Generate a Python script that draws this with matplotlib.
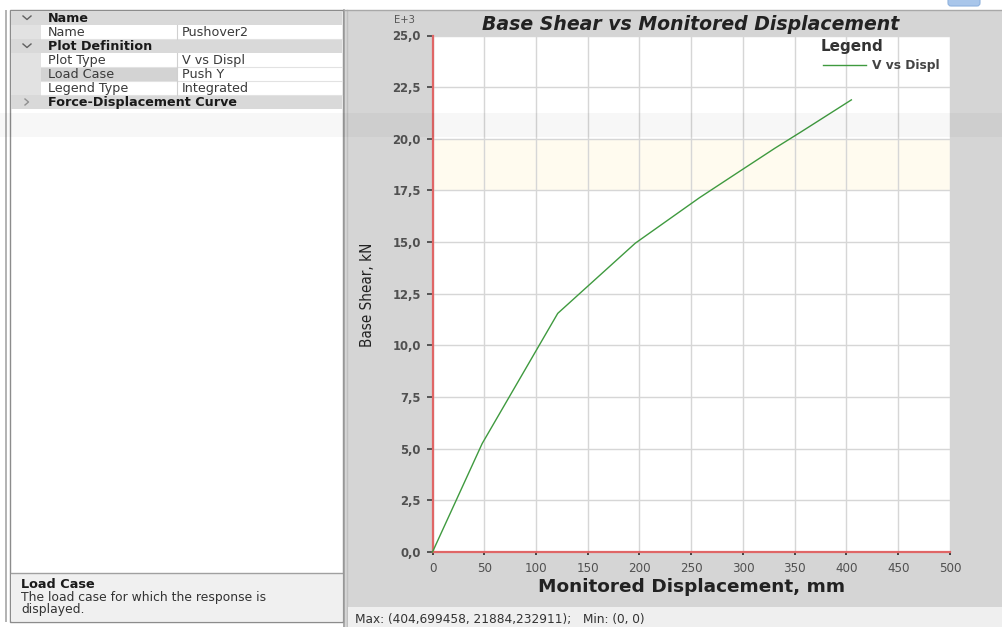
import matplotlib
matplotlib.use("Agg")
import matplotlib.pyplot as plt
from matplotlib.patches import Rectangle, FancyBboxPatch
from matplotlib.lines import Line2D
from matplotlib.ticker import FuncFormatter, FixedLocator
from matplotlib import font_manager as fm

# ---- pushover curve (Push Y), base shear in kN vs monitored displacement in mm ----
displacement_mm = [0, 48, 121, 196, 258, 299, 331, 355, 366, 404.699458]
base_shear_kN = [0, 5250, 11550, 14950, 17150, 18500, 19550, 20300, 20650, 21884.232911]

x_ticks = [0, 50, 100, 150, 200, 250, 300, 350, 400, 450, 500]
y_ticks_e3 = [0.0, 2.5, 5.0, 7.5, 10.0, 12.5, 15.0, 17.5, 20.0, 22.5, 25.0]

series_name = "V vs Displ"
chart_title = "Base Shear vs Monitored Displacement"
x_label = "Monitored Displacement, mm"
y_label = "Base Shear, kN"

# property grid rows: (kind, name, value)
grid_rows = [
    ("category", "Name", ""),
    ("item", "Name", "Pushover2"),
    ("category", "Plot Definition", ""),
    ("item", "Plot Type", "V vs Displ"),
    ("item", "Load Case", "Push Y"),
    ("item", "Legend Type", "Integrated"),
    ("collapsed", "Force-Displacement Curve", ""),
]
help_title = "Load Case"
help_lines = ["The load case for which the response is", "displayed."]

plt.rcParams["font.family"] = ["DejaVu Sans"]


def condensed_font():
    """Pick a narrow sans face for the rotated axis title, if one is installed."""
    found = []
    for f in fm.fontManager.ttflist:
        narrow = "Narrow" in f.name or "Condensed" in f.name
        if isinstance(f.stretch, str):
            narrow = narrow or f.stretch in ("condensed", "semi-condensed")
        if narrow and f.style == "normal" and f.weight in (400, "normal", "regular", "book"):
            found.append(f)
    prefs = ["Liberation Sans Narrow", "DejaVu Sans", "Roboto Condensed", "Open Sans Condensed"]
    for p in prefs:
        for f in found:
            if f.name == p and ("ondensed" in f.fname or "arrow" in f.fname):
                return fm.FontProperties(fname=f.fname)
    for f in found:
        if "ondensed" in f.fname or "arrow" in f.fname:
            return fm.FontProperties(fname=f.fname)
    return fm.FontProperties(family="Liberation Sans")


W, H = 1003, 627
fig = plt.figure(figsize=(W / 100, H / 100), dpi=100)
fig.patch.set_facecolor("white")

# full-figure canvas in pixel units for the window chrome
bg = fig.add_axes([0, 0, 1, 1])
bg.set_xlim(0, W)
bg.set_ylim(H, 0)
bg.axis("off")


def rect(x, y, w, h, fc, ec="none", lw=0, z=1, alpha=1.0):
    bg.add_patch(Rectangle((x, y), w, h, facecolor=fc, edgecolor=ec, linewidth=lw, zorder=z,
                           alpha=alpha))


# ---------- left property panel ----------
rect(10, 10, 333, 612, "white", "#8c8c8c", 1.0, 1)
rect(5, 10, 2, 612, "#b4b4b4", z=1)
row_h = 14
top = 11
split_x = 177
grid_fs = 9.2
for i, (kind, name, value) in enumerate(grid_rows):
    y0 = top + i * row_h
    yc = y0 + row_h / 2
    if kind in ("category", "collapsed"):
        rect(11, y0, 331, row_h, "#d9d9d9", z=2)
        bg.text(48, yc + 0.5, name, fontsize=grid_fs, fontweight="bold", color="#1a1a1a",
                va="center", ha="left", zorder=4)
        if kind == "category":
            bg.plot([23, 27, 31], [yc - 2, yc + 1.5, yc - 2], color="#606060", lw=1.0, zorder=4)
        else:
            bg.plot([25, 28.5, 25], [yc - 3, yc, yc + 3], color="#909090", lw=1.0, zorder=4)
    else:
        rect(11, y0, 30, row_h, "#e2e2e2", z=2)
        cell_fc = "#d3d3d3" if name == "Load Case" else "white"
        rect(41, y0, split_x - 41, row_h, cell_fc, z=2)
        rect(split_x, y0, 342 - split_x, row_h, "white", z=2)
        bg.plot([41, 342], [y0 + row_h, y0 + row_h], color="#e2e2e2", lw=0.8, zorder=3)
        bg.plot([split_x, split_x], [y0, y0 + row_h], color="#d0d0d0", lw=0.8, zorder=3)
        bg.text(48, yc + 0.5, name, fontsize=grid_fs, color="#3a3a3a", va="center", ha="left", zorder=4)
        bg.text(split_x + 5, yc + 0.5, value, fontsize=grid_fs, color="#3a3a3a", va="center",
                ha="left", zorder=4)

# help box at the bottom of the property panel
rect(11, 573, 331, 48, "#f0f0f0", z=2)
bg.plot([11, 342], [573, 573], color="#a0a0a0", lw=1.0, zorder=3)
bg.text(21, 584, help_title, fontsize=9.3, fontweight="bold", color="#1a1a1a", va="center", zorder=4)
for k, line in enumerate(help_lines):
    bg.text(21, 598 + k * 11.5, line, fontsize=8.9, color="#333333", va="center", zorder=4)

# ---------- chart panel ----------
rect(345, 10, 658, 617, "#d5d5d5", z=1)
bg.plot([344, 344], [10, 627], color="#9a9a9a", lw=1.2, zorder=2)
bg.plot([347, 347], [10, 627], color="#c0c0c0", lw=1.0, zorder=2)
bg.plot([345, 1003], [10, 10], color="#a8a8a8", lw=1.0, zorder=2)
rect(348, 607, 655, 20, "#efefef", z=2)
bg.add_patch(FancyBboxPatch((948, -4), 32, 10, boxstyle="round,pad=0,rounding_size=3",
                            facecolor="#a9c6ea", edgecolor="#8fb2de", lw=0.8, zorder=3))

bg.text(691, 24, chart_title, fontsize=13.6, fontweight="bold", fontstyle="italic",
        color="#222222", ha="center", va="center", zorder=4)
bg.text(404, 20, "E+3", fontsize=7.2, color="#555555", ha="center", va="center", zorder=4)

max_i = max(range(len(base_shear_kN)), key=lambda i: base_shear_kN[i])


def dec(v):
    return f"{v:.6f}".rstrip("0").rstrip(".").replace(".", ",")


status = (f"Max: ({dec(displacement_mm[max_i])}, {dec(base_shear_kN[max_i])});   "
          f"Min: ({dec(min(displacement_mm))}, {dec(min(base_shear_kN))})")
bg.text(355, 619, status, fontsize=8.7, color="#333333", ha="left", va="center", zorder=4)

# ---------- plot area ----------
x0, x1, y_top, y_bot = 432.5, 950.0, 35.5, 552.0
ax = fig.add_axes([x0 / W, 1 - y_bot / H, (x1 - x0) / W, (y_bot - y_top) / H])
ax.set_facecolor("white")
ax.set_xlim(x_ticks[0], x_ticks[-1])
ax.set_ylim(y_ticks_e3[0], y_ticks_e3[-1])
ax.xaxis.set_major_locator(FixedLocator(x_ticks))
ax.yaxis.set_major_locator(FixedLocator(y_ticks_e3))
ax.yaxis.set_major_formatter(FuncFormatter(lambda v, p: f"{v:.1f}".replace(".", ",")))
ax.xaxis.set_major_formatter(FuncFormatter(lambda v, p: f"{v:.0f}"))
ax.grid(True, color="#d6d6d6", linewidth=1.0)
ax.set_axisbelow(True)
for s in ("top", "right"):
    ax.spines[s].set_visible(False)
for s in ("left", "bottom"):
    ax.spines[s].set_color("#e06666")
    ax.spines[s].set_linewidth(1.6)
ax.tick_params(axis="y", direction="out", length=4.5, width=1.1, color="#333333",
               labelsize=8.4, labelcolor="#505050", pad=4)
ax.tick_params(axis="x", direction="out", length=2.5, width=1.3, color="#333333",
               labelsize=8.6, labelcolor="#505050", pad=5)
for lab in ax.get_yticklabels():
    lab.set_fontweight("bold")

# faint warm band behind the upper grid rows
ax.axhspan(17.5, 20.0, color="#fff8dc", alpha=0.45, zorder=0.5, lw=0)

ax.plot(displacement_mm, [v / 1000 for v in base_shear_kN], color="#3f9a3f", lw=1.0,
        label=series_name, zorder=3, clip_on=False)

ax.set_xlabel(x_label, fontsize=13.3, fontweight="bold", color="#222222", labelpad=2)

# rotated axis title, sized to span 104 px
ylab_fp = condensed_font()
ylab_fp.set_size(12)
ytxt = fig.text(367 / W, 1 - 295 / H, y_label, rotation=90, fontproperties=ylab_fp,
                color="#222222", ha="center", va="center")
renderer = fig.canvas.get_renderer()
span = ytxt.get_window_extent(renderer).height
if span > 0:
    ylab_fp.set_size(12 * 104.0 / span)
    ytxt.set_fontproperties(ylab_fp)

# integrated legend in the upper right of the plot area
fig.text(852 / W, 1 - 47 / H, "Legend", fontsize=11, fontweight="bold", color="#333333",
         ha="center", va="center")
handle = Line2D([], [], color="#3f9a3f", lw=1.0)
leg = fig.legend([handle], [series_name], loc="center left",
                 bbox_to_anchor=(823 / W, 1 - 66 / H), bbox_transform=fig.transFigure,
                 frameon=False, fontsize=8.8, handlelength=3.5, handletextpad=0.55,
                 borderpad=0, borderaxespad=0)
for t in leg.get_texts():
    t.set_fontweight("bold")
    t.set_color("#444444")

# faint horizontal screen-capture stripe
fig.patches.append(Rectangle((0, 1 - 137 / H), 1, 24 / H, transform=fig.transFigure,
                             facecolor="black", alpha=0.03, lw=0, zorder=10))

fig.savefig("out.png", dpi=100, facecolor="white")
